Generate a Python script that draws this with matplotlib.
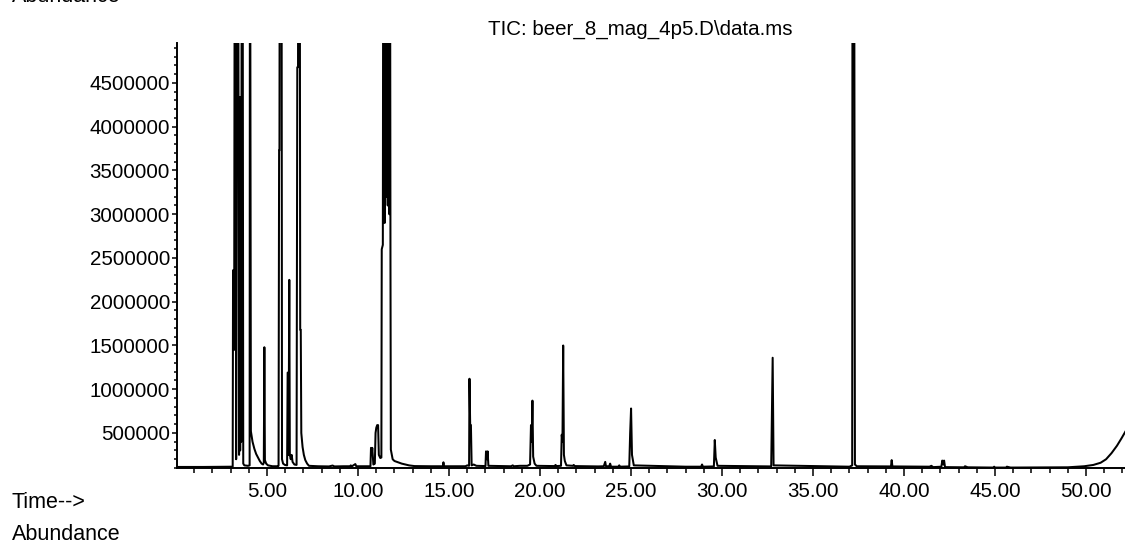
import numpy as np
import matplotlib.pyplot as plt
from matplotlib.ticker import MultipleLocator

plt.rcParams['font.family'] = ['Liberation Sans', 'DejaVu Sans']

# total ion chromatogram, vertices of the trace (retention time in min, abundance)
OFF = 8.0e6   # peaks that run off the top of the scale

rt_early = [0.05, 1.50, 3.08, 3.11, 3.13, 3.17, 3.19, 3.23, 3.27, 3.30, 3.36, 3.40,
            3.43, 3.46, 3.49, 3.52, 3.55, 3.58, 3.61, 3.65, 3.69, 3.75, 3.95, 4.04,
            4.06, 4.11, 4.20, 4.30, 4.40, 4.50, 4.60, 4.70, 4.78, 4.82, 4.85, 4.88,
            4.95, 5.05, 5.30, 5.60]
ab_early = [112000, 112000, 115000, 115000, 2360000, 2360000, 1450000, OFF, OFF, 200000, OFF, OFF,
            4340000, 250000, 4340000, 300000, 4340000, 400000, OFF, OFF, 150000, 130000, 125000, 130000,
            OFF, 520000, 400000, 320000, 260000, 220000, 180000, 150000, 140000, 160000, 1480000, 190000,
            150000, 130000, 120000, 120000]

rt_six = [5.63, 5.66, 5.68, 5.70, 5.76, 5.79, 5.82, 5.88, 5.98, 6.10, 6.13, 6.16,
          6.18, 6.22, 6.25, 6.30, 6.35, 6.40, 6.50, 6.62, 6.66, 6.70, 6.72, 6.79,
          6.82, 6.85, 6.88, 6.95, 7.02, 7.10, 7.20, 7.30]
ab_six = [125000, 3730000, 3730000, OFF, OFF, OFF, 200000, 150000, 135000, 130000, 1190000, 1190000,
          250000, 2250000, 250000, 200000, 250000, 170000, 140000, 135000, 4680000, 4680000, OFF, OFF,
          1680000, 1680000, 500000, 340000, 250000, 190000, 150000, 125000]

rt_eleven = [7.80, 8.40, 8.60, 8.70, 9.20, 9.55, 9.60, 9.65, 9.85, 9.90, 10.68, 10.71,
             10.75, 10.78, 10.84, 10.92, 10.96, 11.00, 11.05, 11.10, 11.14, 11.22, 11.28, 11.30,
             11.36, 11.39, 11.43, 11.46, 11.49, 11.54, 11.58, 11.63, 11.67, 11.72, 11.75, 11.78,
             11.80, 11.90, 12.00, 12.20, 12.40, 12.60, 12.80, 13.10]
ab_eleven = [120000, 118000, 128000, 118000, 120000, 120000, 130000, 118000, 145000, 120000, 120000, 330000,
             250000, 330000, 140000, 150000, 500000, 560000, 590000, 590000, 250000, 214000, 220000, 2600000,
             2650000, OFF, OFF, 2900000, OFF, 3200000, OFF, 3100000, OFF, 3000000, OFF, 2420000,
             310000, 200000, 180000, 165000, 150000, 140000, 130000, 122000]

rt_mid = [14.00, 14.66, 14.69, 14.72, 15.90, 16.00, 16.10, 16.12, 16.16, 16.20, 16.24, 16.35,
          16.50, 17.00, 17.03, 17.08, 17.12, 17.16, 18.40, 18.50, 18.55, 18.90, 19.30, 19.45,
          19.50, 19.54, 19.58, 19.62, 19.70, 19.80, 20.80, 20.85, 20.90, 21.15, 21.19, 21.23,
          21.27, 21.31, 21.36, 21.45, 21.80, 21.85, 21.90]
ab_mid = [120000, 120000, 165000, 120000, 120000, 130000, 125000, 1120000, 590000, 590000, 130000, 140000,
          125000, 122000, 290000, 200000, 290000, 125000, 120000, 130000, 120000, 125000, 125000, 140000,
          590000, 400000, 870000, 230000, 150000, 125000, 122000, 135000, 122000, 125000, 480000, 400000,
          1500000, 250000, 180000, 130000, 125000, 135000, 122000]

rt_late = [23.20, 23.50, 23.58, 23.62, 23.80, 23.85, 23.90, 24.30, 24.35, 24.40, 24.90, 24.95,
           25.00, 25.05, 25.15, 28.00, 28.85, 28.90, 28.95, 29.55, 29.60, 29.65, 29.75, 32.70,
           32.78, 32.83, 37.00, 37.15, 37.17, 37.22, 37.25, 37.30, 37.40, 39.28, 39.32, 39.36,
           41.40, 41.50, 41.60, 42.05, 42.10, 42.16, 42.20, 42.25, 43.30, 43.35, 43.50, 44.90,
           44.95, 45.00, 45.60, 45.65, 45.85, 49.00, 49.90, 50.40, 50.80, 51.10, 51.40, 51.70,
           51.95, 52.20]
ab_late = [118000, 120000, 170000, 120000, 120000, 150000, 115000, 115000, 130000, 115000, 118000, 500000,
           780000, 250000, 130000, 115000, 115000, 140000, 115000, 118000, 420000, 220000, 125000, 118000,
           1360000, 130000, 115000, 130000, OFF, OFF, OFF, 140000, 120000, 118000, 190000, 118000,
           115000, 125000, 110000, 115000, 185000, 140000, 185000, 110000, 108000, 120000, 108000, 105000,
           115000, 105000, 105000, 115000, 105000, 108000, 120000, 135000, 160000, 200000, 270000, 355000,
           440000, 530000]

rt = rt_early + rt_six + rt_eleven + rt_mid + rt_late
abundance = ab_early + ab_six + ab_eleven + ab_mid + ab_late

title = "TIC: beer_8_mag_4p5.D\\data.ms"
x_major = np.arange(5, 51, 5)
y_major = np.arange(500000, 4500001, 500000)

W, H = 1125, 544
fig = plt.figure(figsize=(W / 100, H / 100), dpi=100)
ax = fig.add_axes([177 / W, 76 / H, (W - 177) / W, 425 / H])

ax.plot(rt, abundance, color='black', lw=1.45)

ax.set_xlim(0.05, 52.14)
ax.set_ylim(100000, 4957000)

ax.set_xticks(x_major)
ax.set_xticklabels([f"{v:.2f}" for v in x_major])
ax.xaxis.set_minor_locator(MultipleLocator(1))
ax.set_yticks(y_major)
ax.set_yticklabels([str(v) for v in y_major])
ax.yaxis.set_minor_locator(MultipleLocator(100000))

ax.tick_params(axis='x', which='major', length=6, width=1.1, pad=4, labelsize=14.8)
ax.tick_params(axis='x', which='minor', length=3.6, width=1.1)
ax.tick_params(axis='y', which='major', length=3.5, width=1.1, pad=1.5, labelsize=14.8)
ax.tick_params(axis='y', which='minor', length=2.5, width=1.1)

for side in ('top', 'right'):
    ax.spines[side].set_visible(False)
for side in ('left', 'bottom'):
    ax.spines[side].set_linewidth(1.4)

fig.text(488 / W, 1 - 35 / H, title, fontsize=14.8, va='baseline', ha='left')
fig.text(12 / W, 1 - 2 / H, "Abundance", fontsize=15.5, va='baseline', ha='left')
fig.text(12 / W, 1 - 508 / H, "Time-->", fontsize=15.5, va='baseline', ha='left')
fig.text(12 / W, 1 - 540 / H, "Abundance", fontsize=15.5, va='baseline', ha='left')

fig.savefig("out.png", dpi=100)
